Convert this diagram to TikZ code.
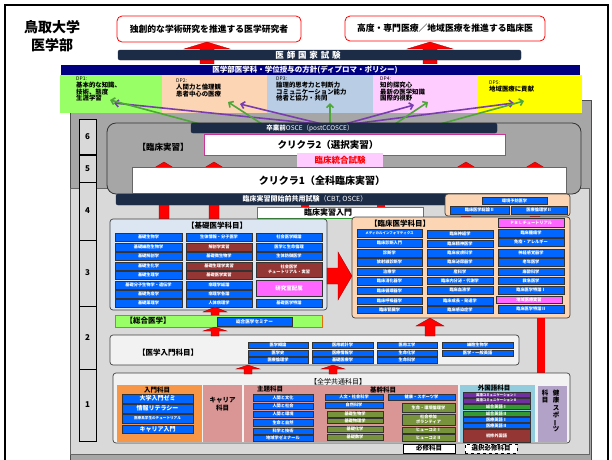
\documentclass[tikz,border=0pt]{standalone}
\usepackage{fontspec}
\setmainfont{Noto Sans CJK JP}
\usepackage{graphicx}
\usetikzlibrary{arrows.meta}
\definecolor{cnavy}{HTML}{1C2B46}
\definecolor{cdpbar}{HTML}{000080}
\definecolor{dpg}{HTML}{99FF66}
\definecolor{dpp}{HTML}{FCD5B4}
\definecolor{dpb}{HTML}{B9CDE5}
\definecolor{dpk}{HTML}{FFCCFF}
\definecolor{dpy}{HTML}{FFFF00}
\definecolor{cgrayA}{HTML}{A6A6A6}
\definecolor{cgrayB}{HTML}{D9D9D9}
\definecolor{cblue}{HTML}{0066FF}
\definecolor{cbrown}{HTML}{943634}
\definecolor{cmag}{HTML}{FF66FF}
\definecolor{ckiso}{HTML}{DCE6F2}
\definecolor{corange}{HTML}{E46C0A}
\definecolor{cnyu}{HTML}{F2F2F2}
\definecolor{corg}{HTML}{F79646}
\definecolor{crose}{HTML}{D99694}
\definecolor{colive}{HTML}{77933C}
\definecolor{cltb}{HTML}{93CDDD}
\definecolor{clav}{HTML}{B3A2C7}
\definecolor{cpur}{HTML}{7030A0}
\definecolor{cgrn}{HTML}{339933}
\definecolor{carrg}{HTML}{4FA63A}
\definecolor{carrp}{HTML}{7A3DB0}
\definecolor{cmagb}{HTML}{CC3399}
\definecolor{cred}{HTML}{FF0000}
\newcommand{\myfs}[2]{\fontsize{#1}{#2}\selectfont}
\newcommand{\mybox}[7]{\node[#2,minimum width={#5pt-#3pt},minimum height={#6pt-#4pt},inner sep=0pt,outer sep=0pt] (#1) at ({(#3+#5)/2},{(#4+#6)/2}) {#7};}
\newcommand{\redup}[6]{\filldraw[fill=cred,draw=red!60!black,line width=0.3pt] ({#1-#6/2},#3) -- (#1,#2) -- ({#1+#6/2},#3) -- ({#1+#5/2},#3) -- ({#1+#5/2},#4) -- ({#1-#5/2},#4) -- ({#1-#5/2},#3) -- cycle;}
\tikzset{
 sb/.style={draw=black!80,line width=0.5pt,fill=cblue,text=white,font=\myfs{4.2}{4.6}\bfseries,align=center},
 sbr/.style={sb,fill=cbrown},
 smag/.style={sb,fill=cmag},
 sol/.style={sb,fill=colive},
 spu/.style={sb,fill=cpur},
 sgr/.style={sb,fill=cgrn},
 topbox/.style={draw=red,fill=white,rounded corners=5pt,line width=0.8pt,font=\myfs{8.8}{9}\bfseries},
 navybar/.style={fill=cnavy,draw=cnavy,rounded corners=2pt,text=white},
 dptext/.style={anchor=north west,align=left,inner sep=0pt,font=\myfs{6.4}{6.6}\bfseries},
 garr/.style={draw=carrg,line width=1.6pt,-{Straight Barb[length=3.5pt,width=7pt]}},
 parr/.style={draw=carrp,line width=1.6pt,-{Straight Barb[length=3.5pt,width=7pt]}},
 yearbox/.style={fill=cgrayB,draw=black,line width=0.7pt,font=\myfs{8}{8}\bfseries},
 panel/.style={draw=black!75,line width=0.7pt,rounded corners=3pt},
 ttl/.style={font=\myfs{7.5}{8}\bfseries,inner sep=0pt},
 hdr/.style={font=\myfs{6.5}{7}\bfseries,inner sep=0pt},
}
\begin{document}
\begin{tikzpicture}[x=1pt,y=-1pt]
\useasboundingbox (0,0) rectangle (612,459);
\fill[white] (0,0) rectangle (612,459);
\draw[line width=1.3pt] (5,5) rectangle (608,470);
% title
\node[font=\myfs{14}{18}\bfseries,align=center] (title) at (52,36) {鳥取大学\\医学部};
% top targets
\mybox{tb1}{topbox}{117}{16}{301}{42}{独創的な学術研究を推進する医学研究者}
\mybox{tb2}{topbox}{345}{16}{545}{41}{高度・専門医療／地域医療を推進する臨床医}
% grey backgrounds
\path[fill=cgrayA,draw=black!70,line width=0.6pt] (70,100) rectangle (591,470);
\path[fill=cgrayB,draw=black!60,line width=0.5pt] (70,188) rectangle (589,454);
% top red arrows
\redup{207}{42}{49}{64}{14}{46}
\redup{430}{42}{49}{64}{14}{46}
\mybox{kokushi}{navybar}{118}{50}{521}{60}{}
\node[text=white,font=\myfs{8.5}{8.5}\bfseries] (kokushit) at (308,55) {医\,\,師\,\,国\,\,家\,\,試\,\,験};
\mybox{dpbar}{draw=white,line width=0.8pt,fill=cdpbar,text=white}{60}{64}{580}{75}{}
\node[text=white,font=\myfs{7.5}{8}\bfseries] (dpbart) at (305,69.5) {医学部医学科・学位授与の方針(ディプロマ・ポリシー)};
% DP boxes
\mybox{dp1}{fill=dpg}{60}{75}{162}{113}{}
\mybox{dp2}{fill=dpp}{162}{75}{267}{113}{}
\mybox{dp3}{fill=dpb}{267}{75}{373}{113}{}
\mybox{dp4}{fill=dpk}{373}{75}{478}{113}{}
\mybox{dp5}{fill=dpy}{478}{75}{582}{113}{}
\node[dptext] (dp1t) at (76,77) {{\mdseries\myfs{5}{6.3}DP1:}\\基本的な知識、\\技術、態度\\生涯学習};
\node[dptext] (dp2t) at (176,79) {{\mdseries\myfs{5}{6.3}DP2:}\\人間力と倫理観\\患者中心の医療};
\node[dptext] (dp3t) at (276,77) {{\mdseries\myfs{5}{6.3}DP3:}\\論理的思考力と判断力\\コミュニケーション能力\\他者と協力・共同};
\node[dptext] (dp4t) at (380,77) {{\mdseries\myfs{5}{6.3}DP4:}\\知的探究心\\最新の医学知識\\国際的視野};
\node[dptext] (dp5t) at (489,81) {{\mdseries\myfs{5}{6.3}DP5:}\\地域医療に貢献};
% DP arrows
\coordinate (g1s) at (200,124); \coordinate (g1e) at (110,100);
\coordinate (g2s) at (262,124); \coordinate (g2e) at (228,102);
\coordinate (g3s) at (330,124); \coordinate (g3e) at (330,103);
\coordinate (g4s) at (395,124); \coordinate (g4e) at (428,102);
\coordinate (g5s) at (440,124); \coordinate (g5e) at (524,101);
\coordinate (p1s) at (318,124); \coordinate (p1e) at (114,103);
\coordinate (p2s) at (322,124); \coordinate (p2e) at (240,104);
\coordinate (p4s) at (345,124); \coordinate (p4e) at (414,105);
\coordinate (p5s) at (352,124); \coordinate (p5e) at (514,103);
\draw[parr] (p1s) -- (p1e);
\draw[parr] (p2s) -- (p2e);
\draw[parr] (p4s) -- (p4e);
\draw[parr] (p5s) -- (p5e);
\draw[garr] (g1s) -- (g1e);
\draw[garr] (g2s) -- (g2e);
\draw[garr] (g3s) -- (g3e);
\draw[garr] (g4s) -- (g4e);
\draw[garr] (g5s) -- (g5e);
% year column
\mybox{y6}{yearbox}{79}{119}{96}{154}{6}
\mybox{y5}{yearbox}{79}{155}{96}{182}{5}
\mybox{y4}{yearbox}{79}{182}{96}{240}{4}
\mybox{y3}{yearbox}{79}{240}{96}{306}{3}
\mybox{y2}{yearbox}{79}{306}{96}{369}{2}
\mybox{y1}{yearbox}{79}{369}{96}{441}{1}
% clinical practice block
\mybox{rinsho}{fill=cgrayA,draw=black!80,line width=0.8pt,rounded corners=9pt}{107}{123}{581}{194}{}
\node[font=\myfs{8.5}{9}\bfseries] (rjt) at (163,147) {【臨床実習】};
\redup{164}{162}{168}{219}{10}{20}
\redup{214}{162}{168}{219}{10}{20}
\redup{466}{162}{168}{217}{10}{20}
\redup{535}{162}{168}{217}{10}{20}
\fill[cred] (301,193) rectangle (309,207);
\fill[cred] (377,193) rectangle (385,207);
\mybox{cc2}{fill=white,draw=cmagb,line width=0.8pt}{204}{134}{505}{155}{}
\node[font=\myfs{9.5}{10}\bfseries] (cc2t) at (328,145) {クリクラ2（選択実習）};
\mybox{togo}{fill=dpk,text=red,font=\myfs{8.5}{9}\bfseries}{297}{153}{383}{167}{臨床統合試験}
\mybox{cc1}{fill=white,draw=black!60,line width=0.6pt}{132}{167}{566}{193}{}
\node[font=\myfs{10}{10}\bfseries] (cc1t) at (322,181) {クリクラ1（全科臨床実習）};
\mybox{osce}{navybar}{191}{123}{497}{133}{}
\node[text=white,font=\myfs{6.5}{7}] (oscet) at (310,128) {{\bfseries 卒業前}OSCE（postCCOSCE）};
\mybox{cbt}{navybar}{116}{194}{450}{205}{}
\node[text=white,font=\myfs{7}{7}] (cbtt) at (305,199.5) {{\bfseries 臨床実習開始前共用試験}（CBT, OSCE）};
\mybox{intro}{fill=white,draw=cgrn,line width=0.8pt}{257}{207}{423}{218}{}
\node[font=\myfs{8}{8}\bfseries] (introt) at (328,212.5) {臨床実習入門};
% small peach box
\mybox{pk}{panel,fill=dpp}{445}{194}{570}{216}{}
\mybox{pk1}{sb}{482}{197}{547}{204}{環境予防医学}
\mybox{pk2}{sb}{450}{206}{509}{214}{臨床医学総論Ⅱ}
\mybox{pk3}{sb}{511}{206}{567}{214}{医療倫理学Ⅱ}
% basic medicine
\mybox{kiso}{panel,fill=ckiso}{110}{219}{327}{310}{}
\node[ttl] (kisot) at (217,226) {【基礎医学科目】};
\mybox{k11}{sb}{115}{233}{182}{241}{基礎生物学}
\mybox{k12}{sb}{115}{243}{182}{251}{基礎細胞生物学}
\mybox{k13}{sb}{115}{252}{182}{260}{基礎解剖学}
\mybox{k14}{sb}{115}{262}{182}{270}{基礎生化学}
\mybox{k15}{sb}{115}{271}{182}{279}{基礎生理学}
\mybox{k16}{sb}{115}{281}{182}{289}{基礎分子生物学・遺伝学}
\mybox{k17}{sb}{115}{290}{182}{298}{基礎免疫学}
\mybox{k18}{sb}{115}{299}{182}{307}{基礎薬理学}
\mybox{k21}{sb}{186}{233}{252}{241}{生体情報・分子医学}
\mybox{k22}{sbr}{186}{243}{252}{251}{解剖学実習}
\mybox{k23}{sb}{186}{252}{252}{260}{基礎微生物学}
\mybox{k24}{sbr}{186}{262}{252}{270}{基礎生理学実習}
\mybox{k25}{sbr}{186}{271}{252}{279}{基礎医学実習}
\mybox{k26}{sb}{186}{281}{252}{289}{病理学総論}
\mybox{k27}{sb}{186}{290}{252}{298}{病理学各論}
\mybox{k28}{sb}{186}{299}{252}{307}{人体病理学}
\mybox{k31}{sb}{256}{233}{322}{241}{社会医学概論}
\mybox{k32}{sb}{256}{243}{322}{251}{医学と生命倫理}
\mybox{k33}{sb}{256}{252}{322}{260}{生体防御医学}
\mybox{k34}{sbr}{256}{262}{322}{277}{社会医学\\チュートリアル・実習}
\mybox{k35}{smag}{256}{280}{322}{296}{\myfs{5.5}{6}研究室配属}
\mybox{k36}{sb}{256}{299}{322}{307}{基礎医学特論}
% clinical medicine
\mybox{rin}{panel,fill=dpp}{352}{217}{570}{318}{}
\node[ttl] (rint) at (400,224) {【臨床医学科目】};
\mybox{r11}{sb}{357}{229}{422}{237}{\myfs{3.5}{4}メディカルインフォマティクス}
\mybox{r12}{sb}{357}{239}{422}{247}{臨床診断入門}
\mybox{r13}{sb}{357}{249}{422}{257}{診断学}
\mybox{r14}{sb}{357}{258}{422}{266}{放射線診断学}
\mybox{r15}{sb}{357}{268}{422}{275}{治療学}
\mybox{r16}{sb}{357}{277}{422}{285}{臨床消化器学}
\mybox{r17}{sb}{357}{287}{422}{294}{臨床循環器学}
\mybox{r18}{sb}{357}{297}{422}{304}{臨床呼吸器学}
\mybox{r19}{sb}{357}{306}{422}{313}{臨床腎臓学}
\mybox{r21}{sb}{427}{230}{493}{238}{臨床神経学}
\mybox{r22}{sb}{427}{240}{493}{247}{臨床精神医学}
\mybox{r23}{sb}{427}{249}{493}{257}{臨床皮膚科学}
\mybox{r24}{sb}{427}{258}{493}{266}{臨床泌尿器学}
\mybox{r25}{sb}{427}{268}{493}{275}{産科学}
\mybox{r26}{sb}{427}{277}{493}{284}{臨床内分泌・代謝学}
\mybox{r27}{sb}{427}{286}{493}{294}{臨床血液学}
\mybox{r28}{sb}{427}{297}{493}{305}{臨床成長・発達学}
\mybox{r29}{sb}{427}{306}{493}{313}{臨床感染症学}
\mybox{r31}{smag}{498}{218}{564}{227}{ＰＢＬチュートリアル}
\mybox{r32}{sb}{498}{229}{564}{237}{臨床腫瘍学}
\mybox{r33}{sb}{498}{238}{564}{246}{免疫・アレルギー}
\mybox{r34}{sb}{498}{249}{564}{257}{神経感覚器学}
\mybox{r35}{sb}{498}{258}{564}{266}{老年医学}
\mybox{r36}{sb}{498}{268}{564}{275}{麻酔科学}
\mybox{r37}{sb}{498}{277}{564}{284}{救急医学}
\mybox{r38}{sb}{498}{286}{564}{294}{臨床医学特論Ⅰ}
\mybox{r39}{smag}{496}{296}{562}{303}{地域医療実習}
\mybox{r310}{sb}{498}{305}{564}{313}{臨床医学特論Ⅱ}
% basic -> clinical arrow
\filldraw[fill=cred,draw=red!60!black,line width=0.3pt] (327,268) -- (338,268) -- (338,252) -- (352,276) -- (338,300) -- (338,284) -- (327,284) -- cycle;
% general medicine
\mybox{sogo}{fill=dpg,draw=corange,line width=0.9pt}{115}{315}{322}{327}{}
\node[ttl] (sogot) at (148,321) {【総合医学】};
\mybox{sogo1}{sb}{217}{317}{292}{326}{\myfs{4.6}{5}総合医学セミナー}
% intro to medicine
\mybox{nyu}{panel,fill=cnyu}{110}{335}{519}{365}{}
\node[ttl] (nyut) at (168,353) {【医学入門科目】};
\mybox{n11}{sb}{248}{342}{308}{348}{医学概論}
\mybox{n12}{sb}{248}{350}{308}{356}{医学史}
\mybox{n13}{sb}{248}{357}{308}{363}{医療倫理学}
\mybox{n21}{sb}{312}{342}{373}{348}{医用統計学}
\mybox{n22}{sb}{312}{350}{373}{356}{医療情報学}
\mybox{n23}{sb}{312}{357}{373}{363}{基礎医療学}
\mybox{n31}{sb}{377}{342}{437}{348}{医用工学}
\mybox{n32}{sb}{377}{350}{437}{356}{生命化学}
\mybox{n33}{sb}{377}{357}{437}{363}{生命科学}
\mybox{n41}{sb}{442}{342}{513}{348}{細胞生物学}
\mybox{n42}{sb}{442}{350}{513}{356}{医学・一般英語}
% red connectors lower
\redup{215}{307}{312}{315}{8}{24}
\redup{215}{327}{331}{336}{8}{24}
\redup{430}{318}{326}{336}{10}{28}
\fill[cred] (537,318) rectangle (545,374);
% common education
\mybox{zen}{panel,fill=cnyu}{113}{373}{570}{443}{}
\node[font=\myfs{7}{7},inner sep=0pt] (zent) at (338,382) {【全学共通科目】};
\redup{248}{365}{369}{374}{8}{24}
\redup{333}{365}{369}{374}{8}{24}
\mybox{zA}{fill=corg}{117}{385}{202}{442}{}
\node[hdr] (zAt) at (157,390) {入門科目};
\mybox{zA1}{sb,font=\myfs{6}{6}\bfseries}{122}{394}{193}{403}{大学入門ゼミ}
\mybox{zA2}{sb,font=\myfs{6}{6}\bfseries}{122}{404}{193}{413}{情報リテラシー}
\mybox{zA3}{sb,font=\myfs{3.6}{4}\bfseries}{122}{414}{193}{423}{医療系学生のチュートリアル}
\mybox{zA4}{sb,font=\myfs{6}{6}\bfseries}{122}{425}{193}{433}{キャリア入門}
\mybox{zB}{fill=crose}{203}{385}{242}{442}{}
\node[hdr,align=center,font=\myfs{6.5}{8.5}\bfseries] (zBt) at (222.5,404) {キャリア\\科目};
\mybox{zC}{fill=crose}{244}{385}{458}{442}{}
\node[hdr] (zCt1) at (270,389) {主題科目};
\node[hdr] (zCt2) at (383,390) {基幹科目};
\mybox{zc1}{sb}{253}{394}{313}{401}{人間と文化}
\mybox{zc2}{sb}{253}{403}{313}{409}{人間と社会}
\mybox{zc3}{sb}{253}{411}{313}{417}{人間と環境}
\mybox{zc4}{sb}{253}{419}{313}{426}{生命と自然}
\mybox{zc5}{sb}{253}{428}{313}{434}{科学と技術}
\mybox{zc6}{sb}{253}{435}{313}{441}{地域学ゼミナール}
\mybox{zd1}{sb}{325}{394}{383}{400}{人文・社会科学}
\mybox{zd2}{sb}{325}{402}{383}{408}{自然科学}
\mybox{zd3}{sol}{327}{411}{383}{417}{基礎生物学}
\mybox{zd4}{sol}{327}{418}{383}{423}{基礎物理学}
\mybox{zd5}{sol}{327}{426}{383}{432}{基礎化学}
\mybox{zd6}{sol}{327}{434}{383}{440}{基礎数学}
\mybox{ze1}{sb}{388}{394}{455}{400}{健康・スポーツ学}
\mybox{ze2}{sol}{402}{403}{455}{412}{生命・環境倫理学}
\mybox{ze3}{sol}{402}{414}{455}{425}{社会参加\\ボランティア}
\mybox{ze4}{sol}{402}{427}{455}{433}{ヒューコミⅠ}
\mybox{ze5}{sol}{402}{434}{455}{441}{ヒューコミⅡ}
\mybox{zF}{fill=cltb}{460}{385}{535}{442}{}
\node[hdr] (zFt) at (494,388.5) {外国語科目};
\mybox{zf1}{spu,font=\myfs{3.4}{3.6}\bfseries}{463}{392.5}{530}{397.5}{英語コミュニケーションⅠ}
\mybox{zf2}{spu,font=\myfs{3.4}{3.6}\bfseries}{463}{398}{530}{403}{英語コミュニケーションⅡ}
\mybox{zf3}{sgr}{463}{404}{530}{409.5}{総合英語Ⅰ}
\mybox{zf4}{sgr}{463}{411}{530}{416.5}{総合英語Ⅱ}
\mybox{zf5}{sb}{463}{417}{530}{422.5}{医療英語Ⅰ}
\mybox{zf6}{sb}{463}{423}{530}{428.5}{医療英語Ⅱ}
\mybox{zf7}{sbr}{463}{429}{530}{442}{初修外国語}
\mybox{zG}{fill=clav}{538}{386}{567}{442}{}
\node[font=\myfs{6.5}{7.2}\bfseries,align=center,inner sep=0pt,anchor=north] (zGt1) at (556,390) {健\\康\\ス\\ポ\\\rotatebox[origin=c]{90}{ー}\\ツ};
\node[font=\myfs{6.5}{7.2}\bfseries,align=center,inner sep=0pt,anchor=north] (zGt2) at (545,390) {科\\目};
\mybox{hissu}{draw=black,line width=0.9pt,fill=white,font=\myfs{6.5}{7}\bfseries}{403}{444}{455}{453}{必修科目}
\mybox{sentaku}{draw=black,dashed,line width=0.9pt,fill=white,font=\myfs{6.5}{7}\bfseries}{465}{444}{517}{453}{選択必修科目}
\end{tikzpicture}
\end{document}
